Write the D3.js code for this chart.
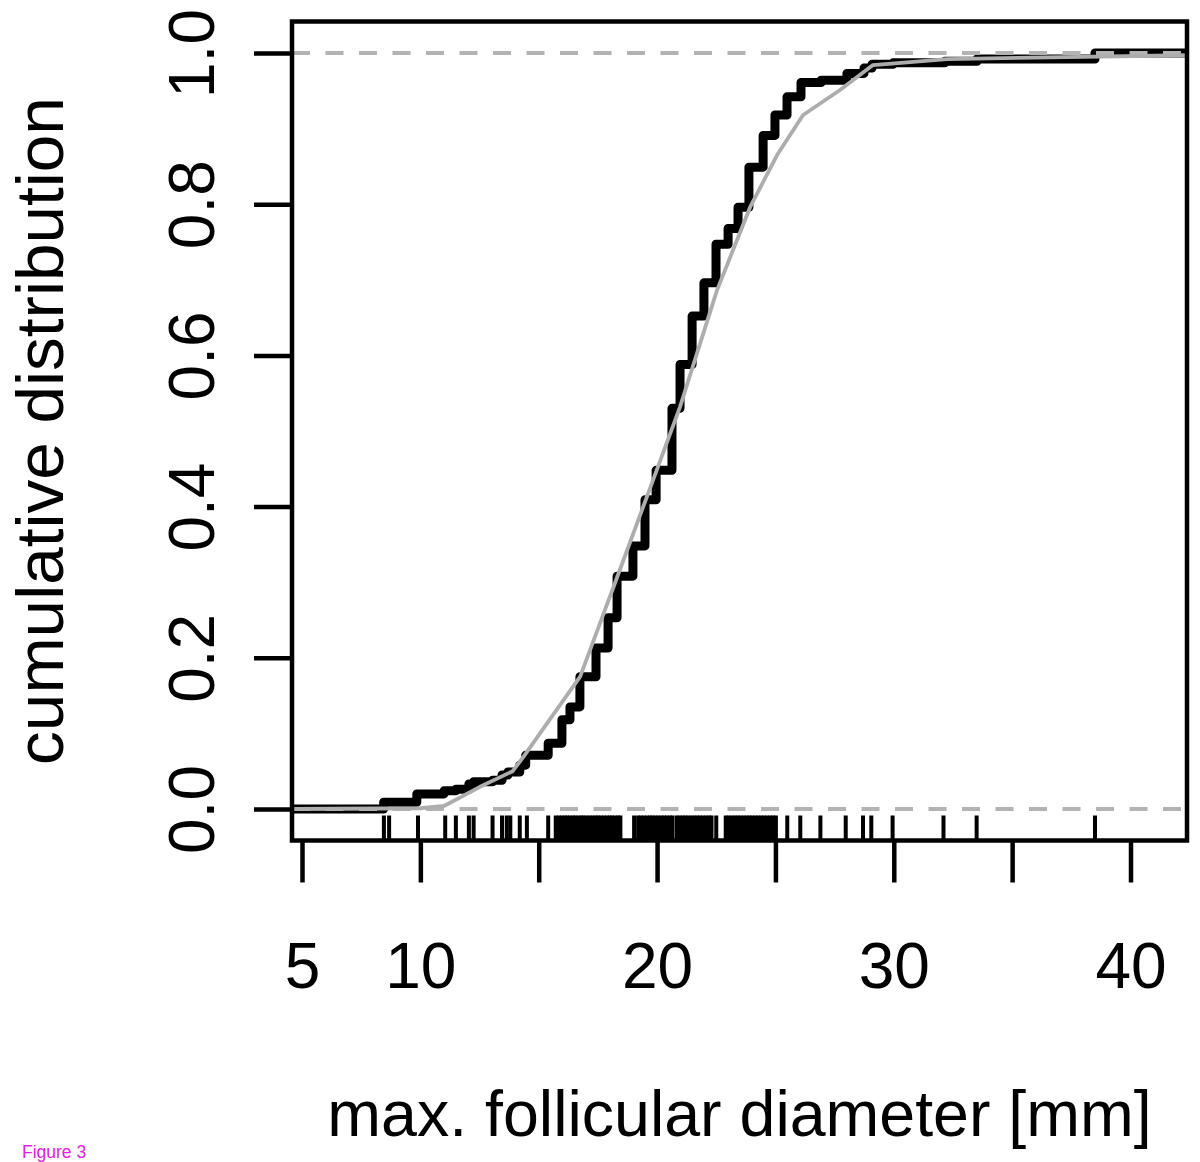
<!DOCTYPE html>
<html><head><meta charset="utf-8">
<script src="https://cdn.jsdelivr.net/npm/d3@7"></script>
<style>
body{margin:0;background:#fff}
svg{display:block}
text{font-family:"Liberation Sans",Arial,Helvetica,sans-serif;fill:#000}
</style>
</head><body>
<svg id="chart" width="1200" height="1162"></svg>
<script>
// ---- data ----
// empirical CDF: jump positions (mm) and level after each jump
const ecdfX = [8.45, 9.85, 11.0, 11.5, 12.05, 12.25, 13.05, 13.45, 13.7, 14.2, 14.45, 15.4,
  15.98, 16.32, 16.74, 17.42, 17.93, 18.31, 18.98, 19.49, 19.96, 20.63, 20.97, 21.48,
  21.98, 22.49, 23.0, 23.42, 23.88, 24.48, 24.98, 25.49, 26.08, 26.93, 28.02, 28.74,
  29.08, 29.97, 32.16, 33.52, 38.5];
const ecdfP = [0.009, 0.020, 0.024, 0.026, 0.033, 0.036, 0.038, 0.045, 0.049, 0.058, 0.071, 0.087,
  0.118, 0.135, 0.175, 0.213, 0.253, 0.308, 0.348, 0.409, 0.448, 0.530, 0.588, 0.652,
  0.696, 0.747, 0.768, 0.796, 0.849, 0.891, 0.918, 0.942, 0.961, 0.964, 0.973, 0.980,
  0.985, 0.987, 0.989, 0.992, 1.0];
// observations shown as rug ticks (mm)
const rugX = [8.46, 8.68, 9.9, 11.05, 11.5, 12.05, 12.25, 13.05, 13.45, 13.65, 13.8, 14.2, 14.5, 15.4,
  15.72, 15.85, 15.98, 16.1, 16.2, 16.32, 16.45, 16.55, 16.68, 16.8, 16.9, 17.02, 17.15, 17.28,
  17.4, 17.5, 17.62, 17.75, 17.88, 18.0, 18.1, 18.22, 18.35, 18.45,
  19.03,
  19.2, 19.32, 19.45, 19.58, 19.7, 19.8, 19.92, 20.05, 20.18, 20.3, 20.42, 20.55, 20.65,
  20.83, 20.95, 21.08, 21.2, 21.32, 21.45, 21.58, 21.7, 21.82, 21.95, 22.08, 22.2, 22.3,
  22.5,
  22.9, 23.02, 23.15, 23.28, 23.4, 23.52, 23.65, 23.78, 23.9, 24.02, 24.15, 24.28, 24.4,
  24.52, 24.65, 24.78, 24.9, 25.02,
  25.5, 26.05, 26.9, 27.97, 28.7, 29.05, 29.95, 32.1, 33.5, 38.5];
// fitted distribution (grey curve)
const fitX = [4.5, 10.0, 11.0, 12.5, 13.9, 14.4, 15.3, 16.75, 18.14, 19.83, 20.97, 22.53,
  23.93, 25.07, 26.17, 27.73, 29.12, 32.25, 42.4];
const fitP = [0.0, 0.001, 0.004, 0.029, 0.050, 0.071, 0.111, 0.175, 0.292, 0.435, 0.532, 0.686,
  0.796, 0.865, 0.918, 0.951, 0.984, 0.992, 0.997];
const xTicks = [5, 10, 15, 20, 25, 30, 35, 40];
const xTickLabels = ["5", "10", "", "20", "", "30", "", "40"];
const yTicks = [0, 0.2, 0.4, 0.6, 0.8, 1.0];
const yTickLabels = ["0.0", "0.2", "0.4", "0.6", "0.8", "1.0"];
const refLines = [0, 1];
const xTitle = "max. follicular diameter [mm]";
const yTitle = "cumulative distribution";
const caption = "Figure 3";

// ---- layout ----
const box = {l: 292, r: 1187, t: 21.5, b: 840.5};
const svg = d3.select("#chart");
svg.append("rect").attr("width", 1200).attr("height", 1162).attr("fill", "#fff");

const x = d3.scaleLinear().domain([5, 40]).range([302, 1130.5]);
const y = d3.scaleLinear().domain([0, 1]).range([809, 53]);

svg.append("defs").append("clipPath").attr("id", "clip")
  .append("rect").attr("x", box.l).attr("y", box.t)
  .attr("width", box.r - box.l).attr("height", box.b - box.t);

const plot = svg.append("g").attr("clip-path", "url(#clip)");

// ECDF step line
const pts = [[x.invert(box.l - 10), 0]].concat(ecdfX.map((v, i) => [v, ecdfP[i]]))
  .concat([[x.invert(box.r + 10), 1]]);
plot.append("path")
  .attr("d", d3.line().x(d => x(d[0])).y(d => y(d[1])).curve(d3.curveStepAfter)(pts))
  .attr("fill", "none").attr("stroke", "#000").attr("stroke-width", 9)
  .attr("stroke-linejoin", "round").attr("stroke-linecap", "round");

// reference dashed lines at 0 and 1
plot.selectAll("line.ref").data(refLines).enter().append("line")
  .attr("class", "ref")
  .attr("x1", box.l).attr("x2", box.r)
  .attr("y1", d => y(d)).attr("y2", d => y(d))
  .attr("stroke", "#b3b3b3").attr("stroke-width", 4)
  .attr("stroke-dasharray", "18,15.5");

// fitted curve
plot.append("path")
  .attr("d", d3.line().x((d, i) => x(fitX[i])).y((d, i) => y(fitP[i]))(fitX))
  .attr("fill", "none").attr("stroke", "#adadad").attr("stroke-width", 3.8)
  .attr("stroke-linejoin", "round");

// rug
plot.selectAll("line.rug").data(rugX).enter().append("line")
  .attr("class", "rug")
  .attr("x1", d => x(d)).attr("x2", d => x(d))
  .attr("y1", box.b).attr("y2", box.b - 25)
  .attr("stroke", "#000").attr("stroke-width", 4);

// box
svg.append("rect").attr("x", box.l).attr("y", box.t)
  .attr("width", box.r - box.l).attr("height", box.b - box.t)
  .attr("fill", "none").attr("stroke", "#000").attr("stroke-width", 4.5);

// y axis
const yAxis = svg.append("g").attr("transform", `translate(${box.l},0)`)
  .call(d3.axisLeft(y).tickValues(yTicks).tickSize(38)
    .tickFormat((d, i) => yTickLabels[i]));
yAxis.select(".domain").remove();
yAxis.selectAll(".tick line").attr("stroke", "#000").attr("stroke-width", 4.5);
yAxis.selectAll(".tick text")
  .attr("transform", "rotate(-90)")
  .attr("x", 0).attr("y", -78).attr("dy", 0)
  .attr("text-anchor", "middle")
  .style("font-size", "64px");

// x axis
const xAxis = svg.append("g").attr("transform", `translate(0,${box.b})`)
  .call(d3.axisBottom(x).tickValues(xTicks).tickSize(42)
    .tickFormat((d, i) => xTickLabels[i]));
xAxis.select(".domain").remove();
xAxis.selectAll(".tick line").attr("stroke", "#000").attr("stroke-width", 4.5);
xAxis.selectAll(".tick text")
  .attr("y", 147.5).attr("dy", 0)
  .attr("text-anchor", "middle")
  .style("font-size", "64px");

// titles
svg.append("text").attr("x", (box.l + box.r) / 2).attr("y", 1136)
  .attr("text-anchor", "middle").style("font-size", "64.5px").text(xTitle);
svg.append("text").attr("transform", `translate(63,${(box.t + box.b) / 2}) rotate(-90)`)
  .attr("text-anchor", "middle").style("font-size", "67.5px").text(yTitle);

// caption
svg.append("text").attr("x", 22).attr("y", 1158)
  .style("font-size", "17.5px").style("fill", "#dd22dd").text(caption);
</script>
</body></html>
